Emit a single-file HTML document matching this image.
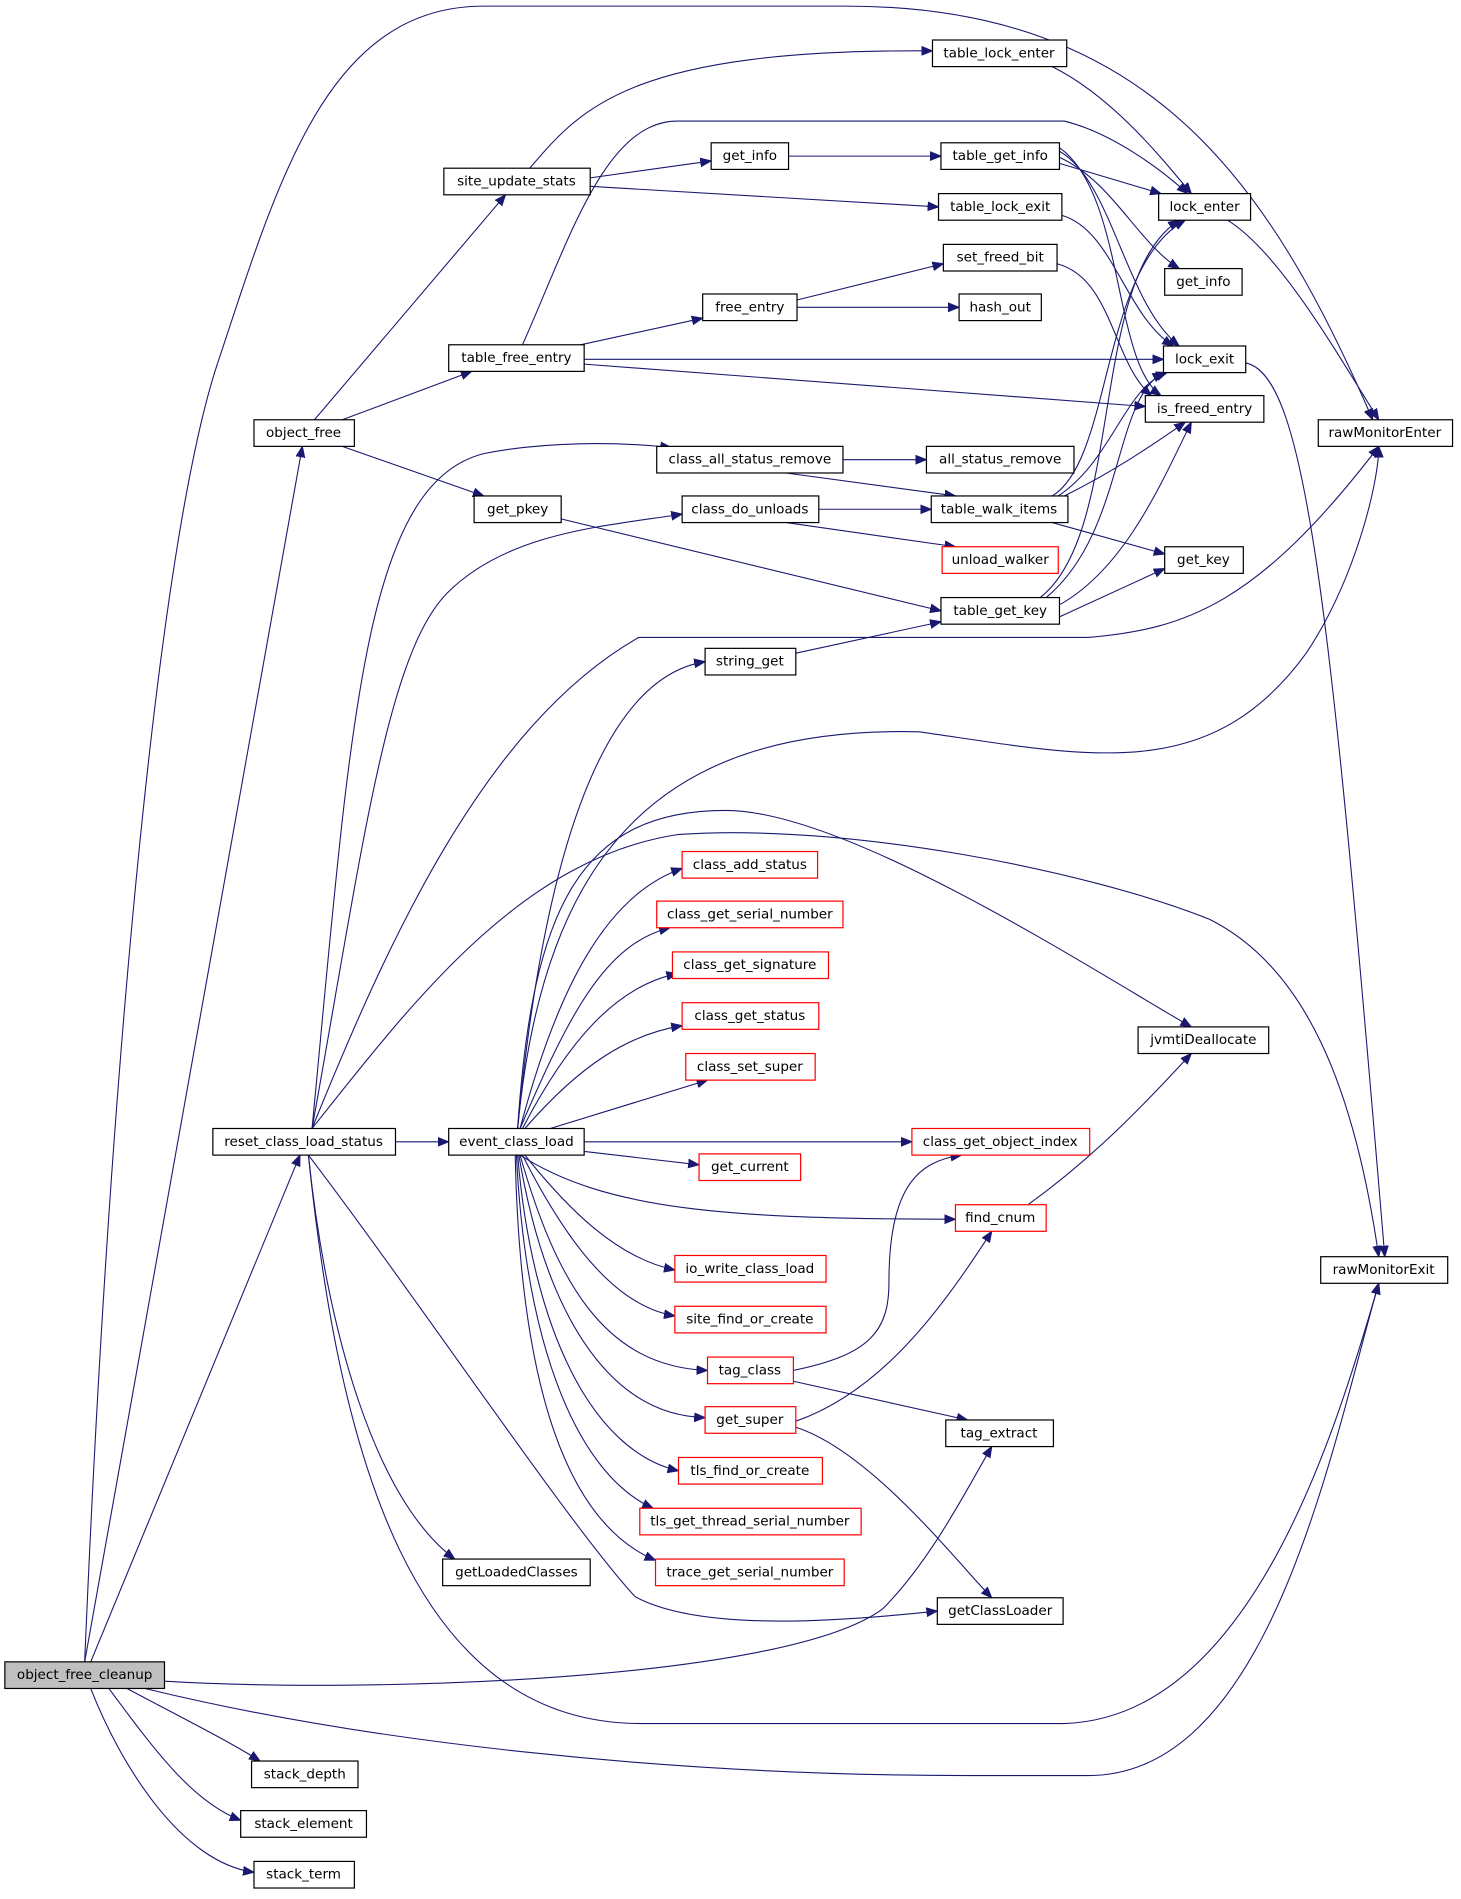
<!DOCTYPE html>
<html><head><meta charset="utf-8"><style>
html,body{margin:0;padding:0;background:#fff;}
svg{display:block}
text{font-family:"DejaVu Sans","Liberation Sans",sans-serif;font-size:11.2px;fill:#000;text-anchor:middle;dominant-baseline:central}
.n{fill:#fff;stroke:#000;stroke-width:1}
.r{fill:#fff;stroke:#f00;stroke-width:1}
.g{fill:#bfbfbf;stroke:#000;stroke-width:1}
path{fill:none;stroke:#191970;stroke-width:0.9}
</style></head><body>
<svg width="1461" height="1899" viewBox="0 0 1208 1570" xmlns="http://www.w3.org/2000/svg">
<defs><marker id="a" viewBox="0 0 10 10" refX="10" refY="5" markerWidth="9" markerHeight="9" markerUnits="userSpaceOnUse" orient="auto"><path d="M0,1 L10,5 L0,9 z" style="fill:#191970;stroke:#191970"/></marker></defs>
<g marker-end="url(#a)">
<path d="M70,1374 L250,369"/>
<path d="M75,1374 L248,955"/>
<path d="M70,1374 C90,900 130,450 180,300 C230,150 270,5 400,5 L700,5 C950,5 1050,150 1135,347"/>
<path d="M136,1390 C300,1400 650,1390 730,1330 C770,1290 800,1230 820,1196"/>
<path d="M120,1396 C300,1440 550,1468 800,1468 L900,1468 C1050,1468 1100,1200 1140,1061"/>
<path d="M105,1396 C150,1420 190,1440 215,1456"/>
<path d="M90,1396 C130,1450 160,1490 199,1505"/>
<path d="M75,1396 C100,1460 150,1540 210,1548"/>
<path d="M260,347 L418,161"/>
<path d="M283,347 L390,307"/>
<path d="M283,369 L400,410"/>
<path d="M438,139 C480,90 520,40 771,42"/>
<path d="M488,147 L588,133"/>
<path d="M488,154 L776,171"/>
<path d="M432,285 C470,200 500,100 560,100 L880,100 C920,110 960,140 982,160"/>
<path d="M480,285 L581,263"/>
<path d="M483,297 L962,297"/>
<path d="M483,301 L947,336"/>
<path d="M652,129 L778,129"/>
<path d="M876,135 L960,160"/>
<path d="M876,130 C920,150 940,200 975,222"/>
<path d="M876,125 C920,150 930,250 975,286"/>
<path d="M876,122 C930,160 920,300 960,327"/>
<path d="M870,55 C920,80 960,130 985,160"/>
<path d="M878,178 C920,190 930,260 970,286"/>
<path d="M874,218 C920,230 920,300 952,327"/>
<path d="M659,248 L780,218"/>
<path d="M659,254 L793,254"/>
<path d="M1015,182 C1060,210 1110,300 1140,347"/>
<path d="M1030,300 C1080,310 1100,500 1145,1039"/>
<path d="M697,380 L766,380"/>
<path d="M650,391 L790,410"/>
<path d="M677,421 L770,421"/>
<path d="M650,432 L790,452"/>
<path d="M870,410 C920,380 910,220 980,182"/>
<path d="M875,410 C920,380 930,320 965,308"/>
<path d="M880,410 C920,390 950,370 980,349"/>
<path d="M870,432 L963,458"/>
<path d="M860,494 C930,440 900,230 975,182"/>
<path d="M865,494 C930,440 920,330 962,308"/>
<path d="M876,500 C930,470 960,400 985,349"/>
<path d="M876,510 L963,470"/>
<path d="M460,428 L778,505"/>
<path d="M658,540 L778,514"/>
<path d="M258,933 C290,600 300,400 400,375 C450,365 510,365 555,370"/>
<path d="M258,933 C300,700 320,540 370,490 C420,440 500,435 564,425"/>
<path d="M258,933 C320,780 400,600 528,527 L900,527 C980,520 1040,500 1140,369"/>
<path d="M258,933 C340,830 430,710 560,690 C700,680 900,720 1000,760 C1080,800 1120,900 1140,1039"/>
<path d="M327,944 L371,944"/>
<path d="M255,955 C270,1100 310,1240 376,1289"/>
<path d="M255,955 C350,1080 470,1260 525,1320 C580,1350 700,1340 775,1332"/>
<path d="M255,955 C280,1200 340,1425 530,1425 L880,1425 C1030,1420 1100,1200 1140,1061"/>
<path d="M428,933 C450,700 500,560 583,547"/>
<path d="M428,933 C450,700 550,600 760,605 C900,625 1000,650 1080,540 C1120,480 1140,400 1140,369"/>
<path d="M428,933 C440,750 480,670 600,670 C700,670 900,800 985,849"/>
<path d="M430,933 C460,820 500,740 564,718"/>
<path d="M430,933 C470,840 500,780 554,767"/>
<path d="M432,933 C470,860 510,815 560,805"/>
<path d="M434,933 C480,880 520,855 564,848"/>
<path d="M455,933 L585,893"/>
<path d="M483,944 L754,944"/>
<path d="M483,952 L578,963"/>
<path d="M430,955 C500,1000 600,1008 790,1008"/>
<path d="M434,955 C470,1000 510,1040 558,1050"/>
<path d="M432,955 C470,1030 510,1080 558,1088"/>
<path d="M430,955 C460,1060 500,1130 585,1133"/>
<path d="M429,955 C450,1080 500,1170 583,1172"/>
<path d="M428,955 C440,1100 490,1200 561,1216"/>
<path d="M427,955 C435,1120 480,1220 540,1247"/>
<path d="M426,955 C430,1150 470,1260 542,1290"/>
<path d="M656,1133 C720,1120 735,1100 735,1060 C735,980 760,960 795,955"/>
<path d="M656,1142 L800,1174"/>
<path d="M658,1175 C730,1150 780,1080 820,1018"/>
<path d="M658,1180 C720,1200 790,1290 820,1321"/>
<path d="M850,996 C900,960 940,920 985,871"/>
</g>
<g>
<rect class="g" x="4" y="1374" width="132" height="22"/><text x="70" y="1385">object_free_cleanup</text>
<rect class="n" x="208" y="1456" width="88" height="22"/><text x="252" y="1467">stack_depth</text>
<rect class="n" x="199" y="1497" width="104" height="22"/><text x="251" y="1508">stack_element</text>
<rect class="n" x="210" y="1539" width="83" height="22"/><text x="251" y="1550">stack_term</text>
<rect class="n" x="210" y="347" width="83" height="22"/><text x="251" y="358">object_free</text>
<rect class="n" x="176" y="933" width="151" height="22"/><text x="251" y="944">reset_class_load_status</text>
<rect class="n" x="366" y="1289" width="122" height="22"/><text x="427" y="1300">getLoadedClasses</text>
<rect class="n" x="367" y="139" width="121" height="22"/><text x="427" y="150">site_update_stats</text>
<rect class="n" x="371" y="285" width="112" height="22"/><text x="427" y="296">table_free_entry</text>
<rect class="n" x="392" y="410" width="72" height="22"/><text x="428" y="421">get_pkey</text>
<rect class="n" x="371" y="933" width="112" height="22"/><text x="427" y="944">event_class_load</text>
<rect class="n" x="771" y="33" width="111" height="22"/><text x="826" y="44">table_lock_enter</text>
<rect class="n" x="588" y="118" width="64" height="22"/><text x="620" y="129">get_info</text>
<rect class="n" x="778" y="118" width="98" height="22"/><text x="827" y="129">table_get_info</text>
<rect class="n" x="776" y="160" width="102" height="22"/><text x="827" y="171">table_lock_exit</text>
<rect class="n" x="780" y="202" width="94" height="22"/><text x="827" y="213">set_freed_bit</text>
<rect class="n" x="581" y="243" width="78" height="22"/><text x="620" y="254">free_entry</text>
<rect class="n" x="793" y="243" width="68" height="22"/><text x="827" y="254">hash_out</text>
<rect class="n" x="543" y="369" width="154" height="22"/><text x="620" y="380">class_all_status_remove</text>
<rect class="n" x="766" y="369" width="122" height="22"/><text x="827" y="380">all_status_remove</text>
<rect class="n" x="564" y="410" width="113" height="22"/><text x="620" y="421">class_do_unloads</text>
<rect class="n" x="770" y="410" width="113" height="22"/><text x="826" y="421">table_walk_items</text>
<rect class="r" x="779" y="452" width="96" height="22"/><text x="827" y="463">unload_walker</text>
<rect class="n" x="778" y="494" width="98" height="22"/><text x="827" y="505">table_get_key</text>
<rect class="n" x="583" y="536" width="75" height="22"/><text x="620" y="547">string_get</text>
<rect class="n" x="958" y="160" width="76" height="22"/><text x="996" y="171">lock_enter</text>
<rect class="n" x="963" y="222" width="64" height="22"/><text x="995" y="233">get_info</text>
<rect class="n" x="962" y="286" width="68" height="22"/><text x="996" y="297">lock_exit</text>
<rect class="n" x="947" y="327" width="98" height="22"/><text x="996" y="338">is_freed_entry</text>
<rect class="n" x="963" y="452" width="65" height="22"/><text x="995" y="463">get_key</text>
<rect class="n" x="1090" y="347" width="111" height="22"/><text x="1145" y="358">rawMonitorEnter</text>
<rect class="n" x="941" y="849" width="108" height="22"/><text x="995" y="860">jvmtiDeallocate</text>
<rect class="n" x="1092" y="1039" width="105" height="22"/><text x="1144" y="1050">rawMonitorExit</text>
<rect class="r" x="564" y="704" width="112" height="22"/><text x="620" y="715">class_add_status</text>
<rect class="r" x="543" y="745" width="154" height="22"/><text x="620" y="756">class_get_serial_number</text>
<rect class="r" x="556" y="787" width="129" height="22"/><text x="620" y="798">class_get_signature</text>
<rect class="r" x="564" y="829" width="113" height="22"/><text x="620" y="840">class_get_status</text>
<rect class="r" x="567" y="871" width="107" height="22"/><text x="620" y="882">class_set_super</text>
<rect class="r" x="754" y="933" width="147" height="22"/><text x="827" y="944">class_get_object_index</text>
<rect class="r" x="578" y="954" width="84" height="22"/><text x="620" y="965">get_current</text>
<rect class="r" x="790" y="996" width="75" height="22"/><text x="827" y="1007">find_cnum</text>
<rect class="r" x="558" y="1038" width="125" height="22"/><text x="620" y="1049">io_write_class_load</text>
<rect class="r" x="558" y="1080" width="125" height="22"/><text x="620" y="1091">site_find_or_create</text>
<rect class="r" x="585" y="1122" width="71" height="22"/><text x="620" y="1133">tag_class</text>
<rect class="r" x="583" y="1163" width="75" height="22"/><text x="620" y="1174">get_super</text>
<rect class="n" x="782" y="1174" width="89" height="22"/><text x="826" y="1185">tag_extract</text>
<rect class="r" x="561" y="1205" width="119" height="22"/><text x="620" y="1216">tls_find_or_create</text>
<rect class="r" x="529" y="1247" width="183" height="22"/><text x="620" y="1258">tls_get_thread_serial_number</text>
<rect class="r" x="542" y="1289" width="156" height="22"/><text x="620" y="1300">trace_get_serial_number</text>
<rect class="n" x="775" y="1321" width="104" height="22"/><text x="827" y="1332">getClassLoader</text>
</g>
</svg>
</body></html>
